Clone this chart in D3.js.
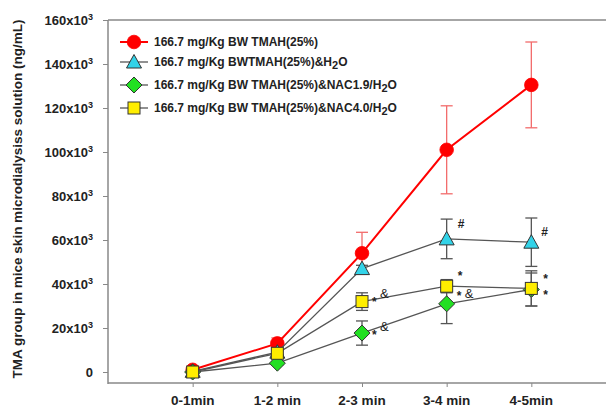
<!DOCTYPE html>
<html><head><meta charset="utf-8">
<script src="https://cdn.jsdelivr.net/npm/d3@7"></script>
<style>body{margin:0;background:#fff}svg{display:block}text{font-family:"Liberation Sans",Arial,sans-serif;font-weight:bold;fill:#222}</style>
</head><body>
<svg id="c" width="606" height="409"></svg>
<script>
const categories = ["0-1min","1-2 min","2-3 min","3-4 min","4-5min"];
const yTicks = [0,20000,40000,60000,80000,100000,120000,140000,160000];
const redVals = [1000,13000,54000,101000,130500];
const redErr = [500,2500,9500,20000,19500];
const cyanVals = [300,9000,47000,60500,59000];
const cyanErr = [300,1000,1500,9000,11000];
const greenVals = [0,4000,17700,31000,37500];
const greenErr = [200,800,5500,9000,7500];
const yellowVals = [0,8500,32000,39000,38000];
const yellowErr = [200,1000,4000,3000,8000];
const legendLabels = ["166.7 mg/Kg BW TMAH(25%)", "166.7 mg/Kg BWTMAH(25%)&H|2|O", "166.7 mg/Kg BW TMAH(25%)&NAC1.9/H|2|O", "166.7 mg/Kg BW TMAH(25%)&NAC4.0/H|2|O"];
// annotations: [category index, value, text, dx, dy]
const annots = [
  [2, 32000, "*", 10, 4], [2, 32000, "&", 18, -4],
  [2, 17700, "*", 10, 6], [2, 17700, "&", 18, -2],
  [3, 60500, "#", 11, -11], [3, 39000, "*", 11, -6],
  [3, 31000, "*", 10, -4], [3, 31000, "&", 18, -6],
  [4, 59000, "#", 10, -6], [4, 38000, "*", 12, -5], [4, 38000, "*", 12, 11]
];

const svg = d3.select("#c");
const x = d3.scaleLinear().domain([-1,5]).range([108,616]);
const y = d3.scaleLinear().domain([0,160000]).range([372,20]);
const axisCol = "#888";

// frame
svg.append("line").attr("x1",108).attr("x2",606).attr("y1",20).attr("y2",20).attr("stroke",axisCol).attr("stroke-width",1.5);
const yAx = svg.append("g").attr("transform","translate(108,0)")
  .call(d3.axisLeft(y).tickValues(yTicks).tickSize(5).tickFormat(""));
yAx.select(".domain").remove();
yAx.selectAll("line").attr("stroke",axisCol);
svg.append("line").attr("x1",108).attr("x2",108).attr("y1",20).attr("y2",384).attr("stroke",axisCol).attr("stroke-width",1.5);
const xAx = svg.append("g").attr("transform","translate(0,383)")
  .call(d3.axisBottom(x).tickValues([0,1,2,3,4]).tickSize(4).tickFormat(""));
xAx.select(".domain").remove();
xAx.selectAll("line").attr("stroke",axisCol);
svg.append("line").attr("x1",108).attr("x2",606).attr("y1",383).attr("y2",383).attr("stroke",axisCol).attr("stroke-width",1.5);

// y tick labels
yTicks.forEach(v=>{
  const t = svg.append("text").attr("x",93).attr("y",y(v)+4.5).attr("text-anchor","end").style("font-size","13px");
  if(v===0){t.text("0");}
  else{
    t.append("tspan").text((v/1000)+"x10");
    t.append("tspan").attr("dy",-5).style("font-size","9px").text("3");
  }
});
// x tick labels
categories.forEach((c,i)=>{
  svg.append("text").attr("x",x(i)).attr("y",405).attr("text-anchor","middle").style("font-size","13.5px").text(c);
});
// y title
svg.append("text").attr("transform","translate(22,199) rotate(-90)").attr("text-anchor","middle")
  .style("font-size","13.5px").text("TMA group in mice skin microdialysiss solution (ng/mL)");

const series = [
  {vals:redVals, err:redErr, line:"#ff0000", lw:2, errCol:"#f26b6b", fill:"#ff0000", stroke:"#ff0000", shape:"circle"},
  {vals:cyanVals, err:cyanErr, line:"#555", lw:1.3, errCol:"#555", fill:"#33d3e8", stroke:"#333", shape:"triangle"},
  {vals:greenVals, err:greenErr, line:"#555", lw:1.3, errCol:"#555", fill:"#22e022", stroke:"#333", shape:"diamond"},
  {vals:yellowVals, err:yellowErr, line:"#555", lw:1.3, errCol:"#555", fill:"#ffee00", stroke:"#333", shape:"square"}
];
function drawMarker(g, shape, cx, cy, s){
  if(shape==="circle") g.append("circle").attr("cx",cx).attr("cy",cy).attr("r",6.8).attr("fill",s.fill).attr("stroke",s.stroke).attr("stroke-width",0.8);
  else if(shape==="triangle") g.append("path").attr("d",`M${cx},${cy-7.5}L${cx+7.5},${cy+6}L${cx-7.5},${cy+6}Z`).attr("fill",s.fill).attr("stroke",s.stroke).attr("stroke-width",1);
  else if(shape==="diamond") g.append("path").attr("d",`M${cx},${cy-8}L${cx+8},${cy}L${cx},${cy+8}L${cx-8},${cy}Z`).attr("fill",s.fill).attr("stroke",s.stroke).attr("stroke-width",1);
  else g.append("rect").attr("x",cx-6).attr("y",cy-6).attr("width",12).attr("height",12).attr("fill",s.fill).attr("stroke",s.stroke).attr("stroke-width",1);
}
series.forEach(s=>{
  const g = svg.append("g");
  s.vals.forEach((v,i)=>{
    const cx=x(i), t=y(v+s.err[i]), b=y(v-s.err[i]);
    g.append("line").attr("x1",cx).attr("x2",cx).attr("y1",t).attr("y2",b).attr("stroke",s.errCol).attr("stroke-width",1.3);
    [t,b].forEach(yy=>g.append("line").attr("x1",cx-6).attr("x2",cx+6).attr("y1",yy).attr("y2",yy).attr("stroke",s.errCol).attr("stroke-width",1.3));
  });
  g.append("path").attr("d",d3.line().x((d,i)=>x(i)).y(d=>y(d))(s.vals)).attr("fill","none").attr("stroke",s.line).attr("stroke-width",s.lw);
  s.vals.forEach((v,i)=>drawMarker(g,s.shape,x(i),y(v),s));
});
// annotations
annots.forEach(a=>{
  svg.append("text").attr("x",x(a[0])+a[3]).attr("y",y(a[1])+a[4]).style("font-size",a[2]==="&"?"13px":"12px").style("font-weight",a[2]==="&"?"normal":"bold").text(a[2]);
});
// legend
const legY = [42,62,85,108];
series.forEach((s,i)=>{
  const g = svg.append("g");
  g.append("line").attr("x1",120).attr("x2",148).attr("y1",legY[i]).attr("y2",legY[i]).attr("stroke",s.line).attr("stroke-width",s.lw);
  drawMarker(g,s.shape,134,legY[i],s);
  const parts = legendLabels[i].split("|");
  const t = g.append("text").attr("x",154).attr("y",legY[i]+4).style("font-size","12px");
  t.append("tspan").text(parts[0]);
  if(parts.length>1){
    t.append("tspan").attr("dy",3).style("font-size","11px").text(parts[1]);
    t.append("tspan").attr("dy",-3).text(parts[2]);
  }
});
</script>
</body></html>
